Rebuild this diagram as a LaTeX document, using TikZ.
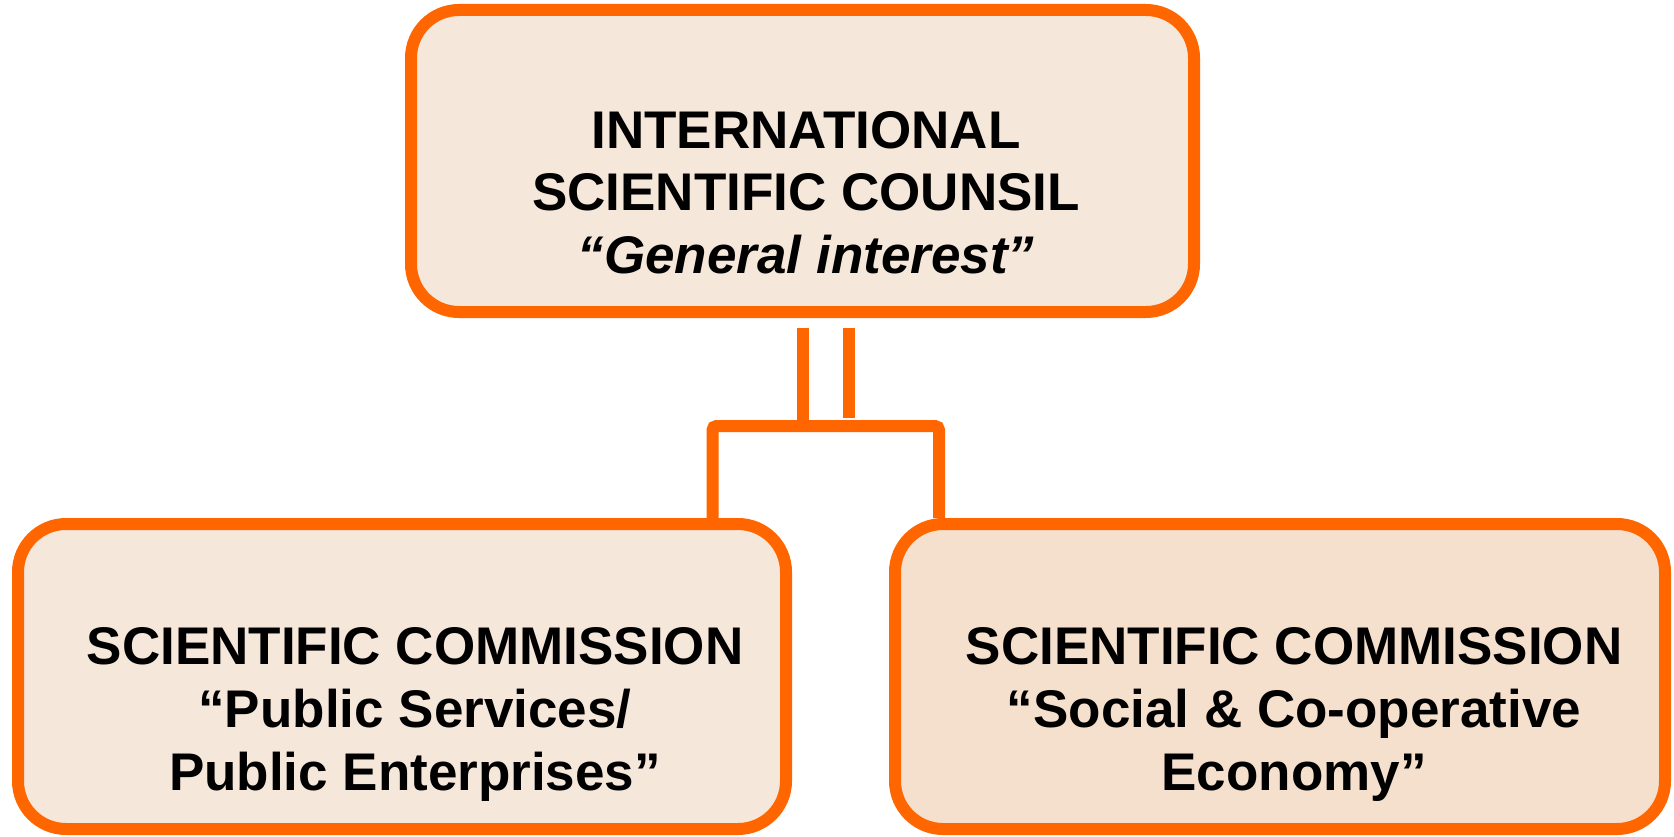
\documentclass[tikz,border=0pt]{standalone}
\usepackage{fontspec}
\setmainfont{Liberation Sans}
\definecolor{borderorange}{RGB}{255,102,0}
\definecolor{filllight}{RGB}{246,231,219}
\definecolor{fillright}{RGB}{245,223,205}
\begin{document}
\begin{tikzpicture}[x=1pt,y=-1pt,
  orgbox/.style={draw=borderorange,line width=12pt,rounded corners=48pt,
    rectangle,inner sep=0pt,anchor=center},
  orgtext/.style={inner sep=0pt,align=center,anchor=base,text=black,
    font=\bfseries\fontsize{53}{63}\selectfont},
  link/.style={draw=borderorange,line width=12pt,line cap=butt}]
\useasboundingbox (0,0) rectangle (1674,837);
\node[orgbox,fill=filllight,minimum width=783pt,minimum height=302pt] (isc) at (802.5,161) {};
\node[orgbox,fill=filllight,minimum width=768pt,minimum height=305pt] (psc) at (402,676.5) {};
\node[orgbox,fill=fillright,minimum width=770pt,minimum height=305pt] (sce) at (1280,676.5) {};
\node[orgtext] (isctext) at (806,274) {INTERNATIONAL\\SCIENTIFIC COUNSIL\\{\itshape “General interest”}};
\node[orgtext] (psctext) at (415,790) {SCIENTIFIC COMMISSION\\“Public Services/\\Public Enterprises”};
\node[orgtext] (scetext) at (1294,790) {SCIENTIFIC COMMISSION\\“Social \& Co-operative\\Economy”};
\coordinate (v1top) at (803,328);
\coordinate (v1bot) at (803,426);
\coordinate (v2top) at (849,328);
\coordinate (v2bot) at (849,418);
\coordinate (barleft) at (712.5,426);
\coordinate (barright) at (939,426);
\draw[link] (v1top) -- (v1bot);
\draw[link] (v2top) -- (v2bot);
\draw[link,rounded corners=4pt] (barleft |- psc.north) -- (barleft) -- (barright) -- (barright |- sce.north);
\end{tikzpicture}
\end{document}
